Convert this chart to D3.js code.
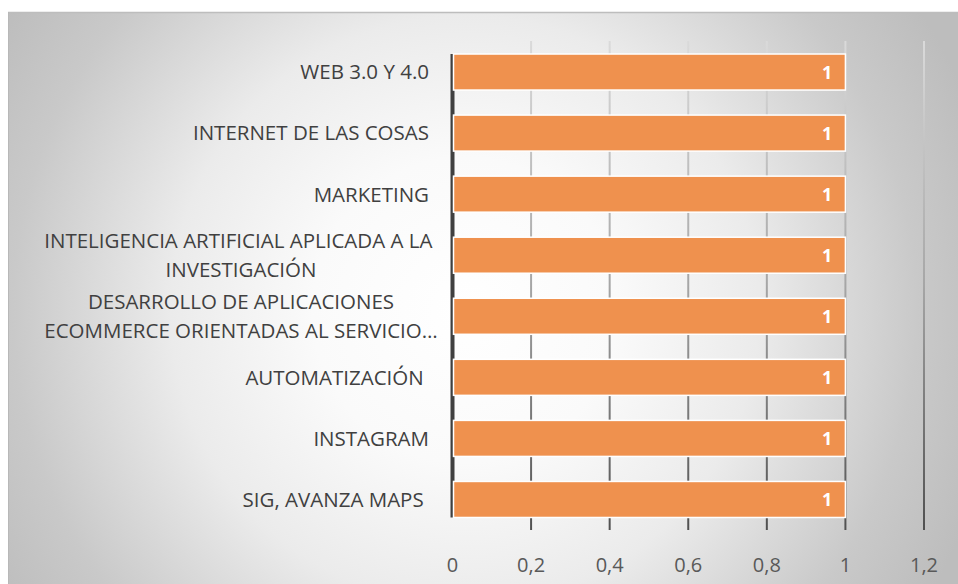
<!DOCTYPE html>
<html>
<head>
<meta charset="utf-8">
<script src="https://cdn.jsdelivr.net/npm/d3@7"></script>
<style>
  body { margin: 0; background: #fff; }
  svg text { font-family: "Open Sans", sans-serif; }
</style>
</head>
<body>
<svg id="chart" width="958" height="584"></svg>
<script>
// categories, top to bottom (trailing spaces kept as in the source)
var categories = [
    'WEB 3.0 Y 4.0',
    'INTERNET DE LAS COSAS',
    'MARKETING',
    ['INTELIGENCIA ARTIFICIAL APLICADA A LA ', 'INVESTIGACIÓN'],
    ['DESARROLLO DE APLICACIONES', 'ECOMMERCE ORIENTADAS AL SERVICIO…'],
    'AUTOMATIZACIÓN ',
    'INSTAGRAM',
    'SIG, AVANZA MAPS '
];
var values = [1, 1, 1, 1, 1, 1, 1, 1];
var ticks = [0, 0.2, 0.4, 0.6, 0.8, 1, 1.2];
var tickLabels = ['0', '0,2', '0,4', '0,6', '0,8', '1', '1,2'];

var rows = categories.map((c, i) => ({ key: i, label: c, value: values[i] }));

var svg = d3.select('#chart');
var defs = svg.append('defs');

// background: radial gray gradient
var bg = defs.append('radialGradient')
    .attr('id', 'bg')
    .attr('gradientUnits', 'userSpaceOnUse')
    .attr('cx', 465).attr('cy', 310).attr('r', 545);
[[0, '#ffffff'], [0.28, '#fafafa'], [0.54, '#ebebeb'], [0.83, '#c9c9c9'], [1, '#bdbdbd']]
    .forEach(s => bg.append('stop').attr('offset', s[0]).attr('stop-color', s[1]));

// gridlines fade light at top to dark at bottom
var gg = defs.append('linearGradient')
    .attr('id', 'grid')
    .attr('gradientUnits', 'userSpaceOnUse')
    .attr('x1', 0).attr('y1', 40).attr('x2', 0).attr('y2', 530);
[[0, '#dadada'], [0.5, '#a6a6a6'], [1, '#505050']]
    .forEach(s => gg.append('stop').attr('offset', s[0]).attr('stop-color', s[1]));

svg.append('rect')
    .attr('x', 8).attr('y', 12)
    .attr('width', 950).attr('height', 572)
    .attr('fill', 'url(#bg)');
svg.append('line')
    .attr('x1', 8).attr('x2', 958).attr('y1', 12.5).attr('y2', 12.5)
    .attr('stroke', '#bdbdbd').attr('stroke-width', 1.5);
svg.append('line')
    .attr('x1', 8.5).attr('x2', 8.5).attr('y1', 12).attr('y2', 584)
    .attr('stroke', '#b8b8b8').attr('stroke-width', 1);

var x = d3.scaleLinear()
    .domain([0, 1.2])
    .range([452.5, 924]);

var y = d3.scaleBand()
    .domain(rows.map(d => d.key))
    .range([41.5, 530])
    .paddingInner(0.41)
    .paddingOuter(0.205);

// gridlines
svg.append('g')
    .selectAll('line.grid')
    .data(ticks.slice(1))
    .enter().append('line')
        .attr('class', 'grid')
        .attr('x1', d => x(d)).attr('x2', d => x(d))
        .attr('y1', 41).attr('y2', 530)
        .attr('stroke', 'url(#grid)')
        .attr('stroke-width', 2);

// category axis line
svg.append('line')
    .attr('x1', x(0)).attr('x2', x(0))
    .attr('y1', y(rows[0].key))
    .attr('y2', y(rows[rows.length - 1].key) + y.bandwidth())
    .attr('stroke', '#404040')
    .attr('stroke-width', 4);

// bars
svg.append('g')
    .selectAll('rect.bar')
    .data(rows)
    .enter().append('rect')
        .attr('class', 'bar')
        .attr('x', x(0) + 1)
        .attr('y', d => y(d.key))
        .attr('width', d => x(d.value) - x(0) - 1)
        .attr('height', y.bandwidth())
        .attr('fill', '#ef914e')
        .attr('stroke', '#ffffff')
        .attr('stroke-width', 1.5);

// value labels
svg.append('g')
    .selectAll('text.value')
    .data(rows)
    .enter().append('text')
        .attr('class', 'value')
        .attr('x', d => x(d.value) - 13)
        .attr('y', d => y(d.key) + y.bandwidth() / 2)
        .attr('dy', '0.36em')
        .attr('text-anchor', 'end')
        .attr('fill', '#ffffff')
        .style('font-size', '18px')
        .style('font-weight', 'bold')
        .text(d => d.value);

// category labels (multi-line ones centered on a common middle)
var labels = svg.append('g')
    .selectAll('text.cat')
    .data(rows)
    .enter().append('text')
        .attr('class', 'cat')
        .attr('fill', '#404040')
        .style('font-size', '20.5px')
        .style('white-space', 'pre');

labels.filter(d => typeof d.label === 'string')
    .attr('x', 429)
    .attr('y', d => y(d.key) + y.bandwidth() / 2)
    .attr('dy', '0.36em')
    .attr('text-anchor', 'end')
    .text(d => d.label);

labels.filter(d => typeof d.label !== 'string')
    .each(function(d) {
        var t = d3.select(this);
        var mid = y(d.key) + y.bandwidth() / 2;
        t.selectAll('tspan')
            .data(d.label)
            .enter().append('tspan')
                .attr('x', 241)
                .attr('text-anchor', 'middle')
                .attr('y', (s, i) => mid + (i - 0.5) * 29)
                .attr('dy', '0.36em')
                .text(s => s);
    });

// value axis labels
svg.append('g')
    .selectAll('text.tick')
    .data(ticks)
    .enter().append('text')
        .attr('class', 'tick')
        .attr('x', d => x(d))
        .attr('y', 572)
        .attr('text-anchor', 'middle')
        .attr('fill', '#595959')
        .style('font-size', '20px')
        .text((d, i) => tickLabels[i]);
</script>
</body>
</html>
